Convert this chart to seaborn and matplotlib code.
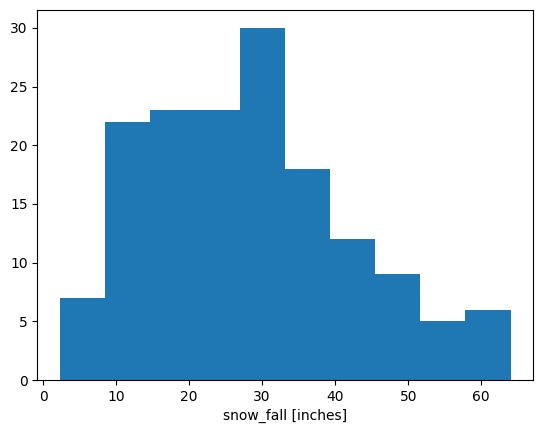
import numpy as np
import pandas as pd
import seaborn as sns
import matplotlib
matplotlib.use("Agg")
import matplotlib.pyplot as plt

# Histogram: 10 equal bins between min and max
snow_min = 2.3
snow_max = 64.0
counts = [7, 22, 23, 23, 30, 18, 12, 9, 5, 6]

n_bins = len(counts)
edges = np.linspace(snow_min, snow_max, n_bins + 1)
centers = (edges[:-1] + edges[1:]) / 2
hist_df = pd.DataFrame({"snow_fall": centers, "count": counts})

plt.rcParams["font.family"] = ["DejaVu Sans"]
fig = plt.figure(figsize=(5.43, 4.33), dpi=100)
ax = fig.add_axes([0.0687, 0.1224, 0.913, 0.8538])

sns.histplot(data=hist_df, x="snow_fall", weights="count",
             bins=n_bins, binrange=(snow_min, snow_max),
             color="#1f77b4", alpha=1, linewidth=0, ax=ax)

ax.set_xlabel("snow_fall [inches]")
ax.set_ylabel("")
ax.set_yticks([0, 5, 10, 15, 20, 25, 30])
ax.set_xticks([0, 10, 20, 30, 40, 50, 60])

fig.savefig("out.png", dpi=100)
